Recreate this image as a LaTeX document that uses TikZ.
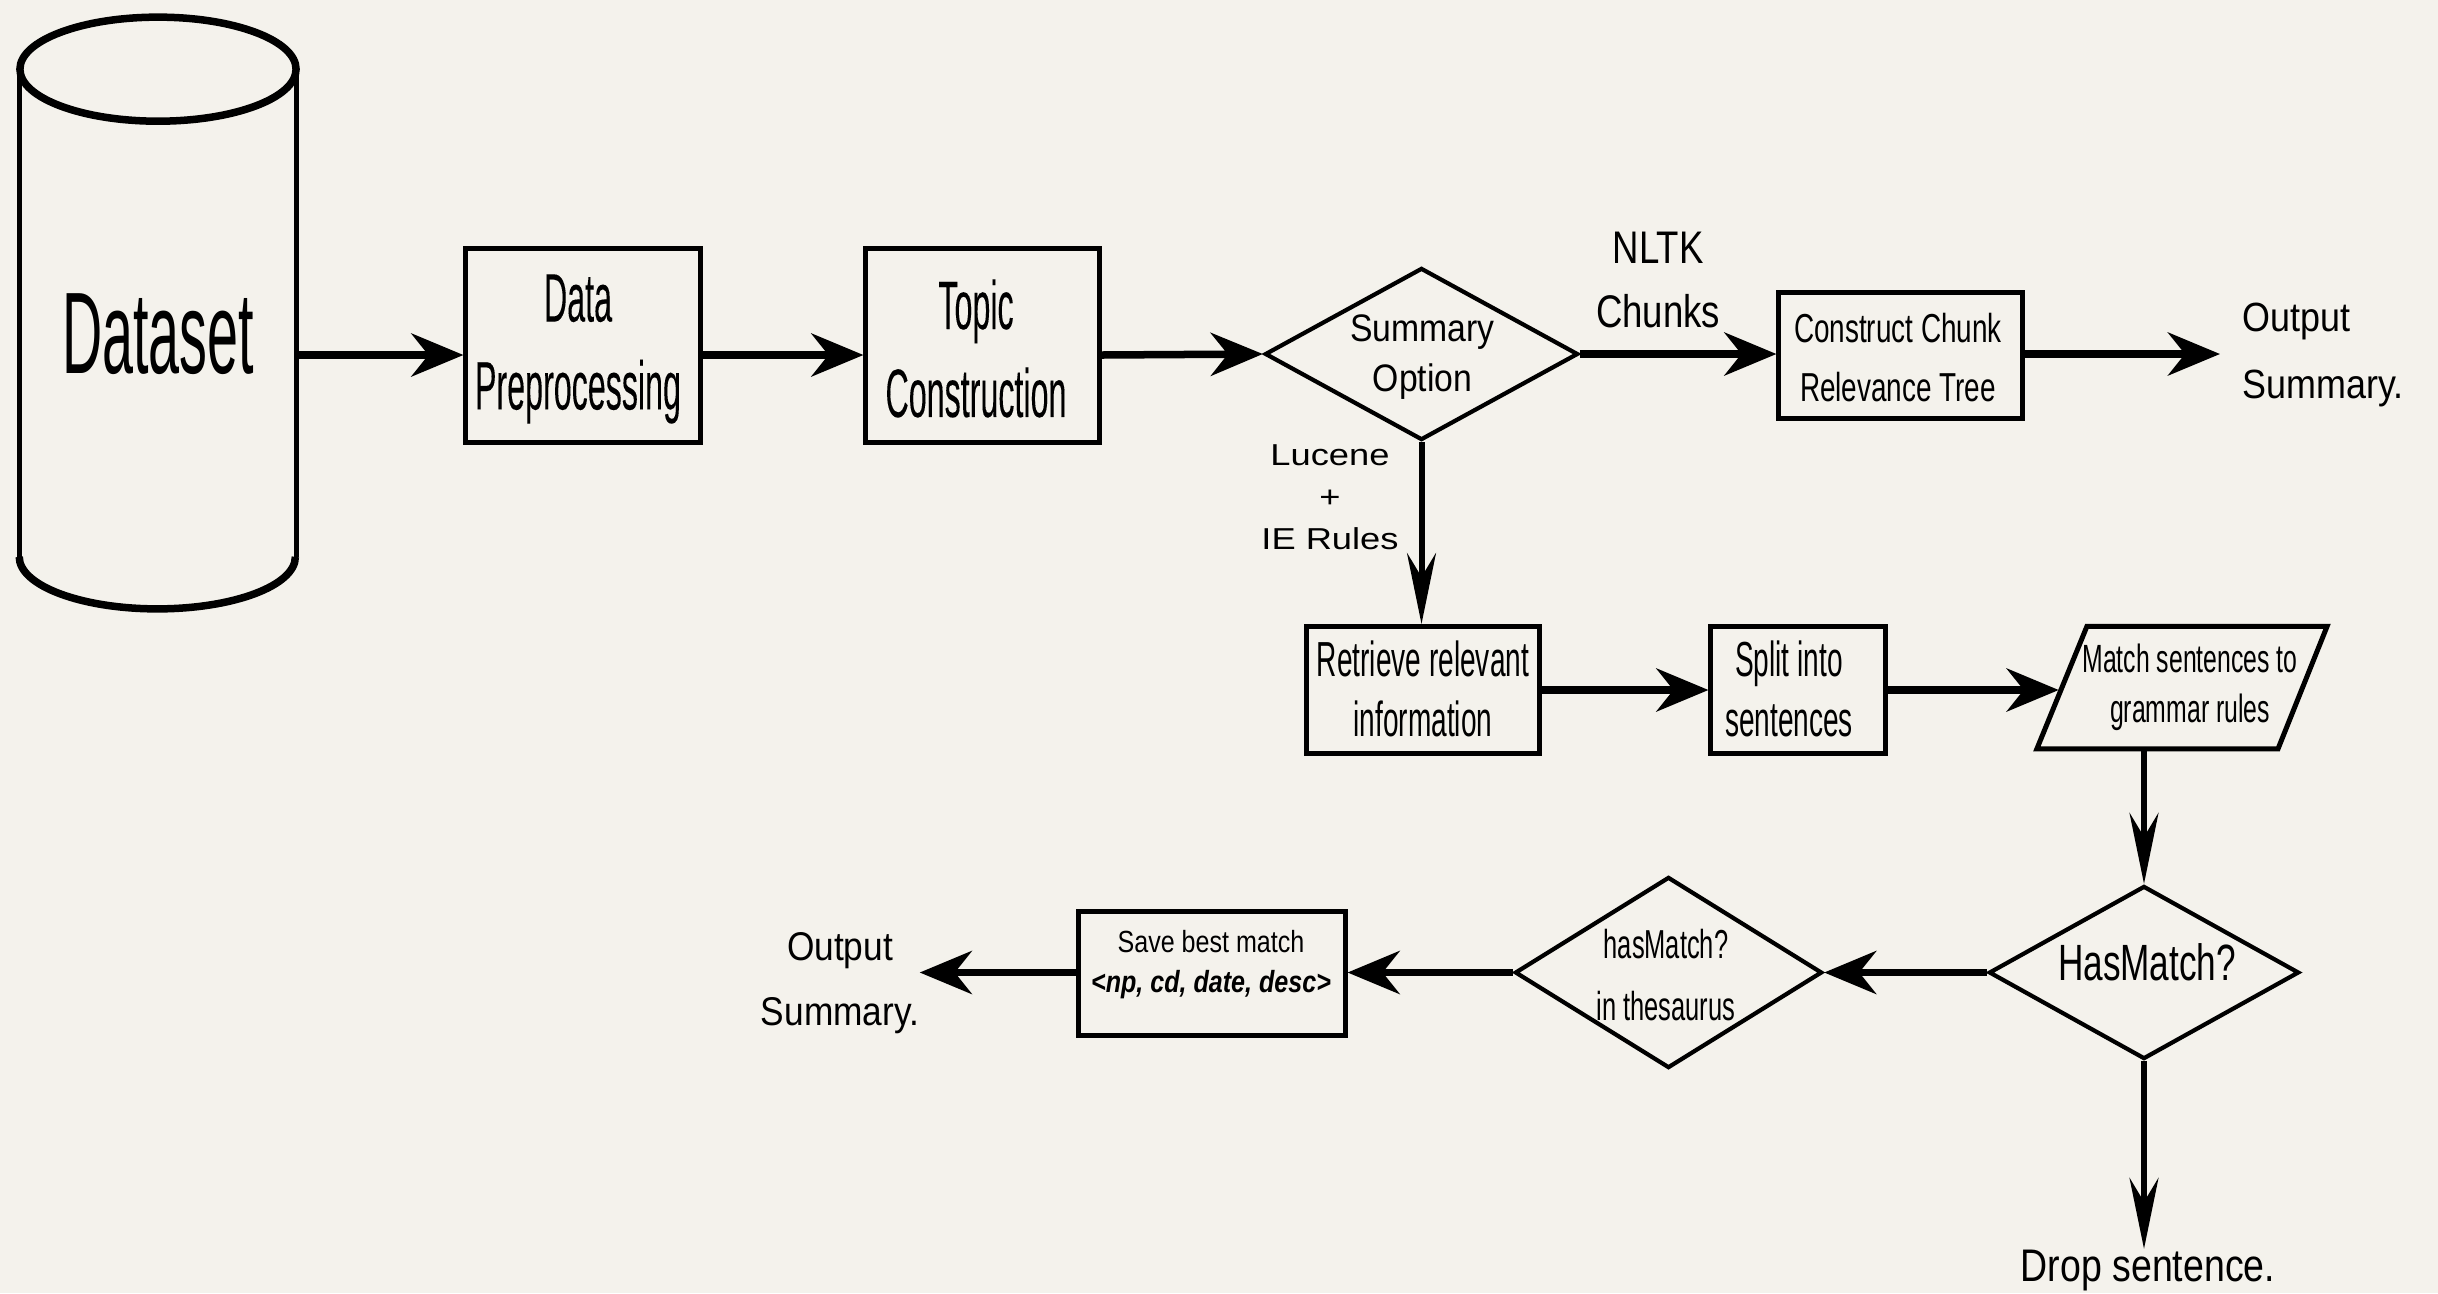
\documentclass[tikz,border=0pt]{standalone}
\usepackage{fontspec}
\setmainfont{Liberation Sans}
% narrow and wide cuts of the same sans face
\newfontfamily\fDataset[FakeStretch=0.48]{Liberation Sans}
\newfontfamily\fStepA[FakeStretch=0.47,FakeBold=0.08]{Liberation Sans}
\newfontfamily\fStepE[FakeStretch=0.57]{Liberation Sans}
\newfontfamily\fStepB[FakeStretch=0.63]{Liberation Sans}
\newfontfamily\fStepC[FakeStretch=0.69]{Liberation Sans}
\newfontfamily\fStepD[FakeStretch=0.82]{Liberation Sans}
\newfontfamily\fNarrowLabel[FakeStretch=0.8]{Liberation Sans}
\newfontfamily\fLabel[FakeStretch=0.88]{Liberation Sans}
\newfontfamily\fWide[FakeStretch=1.2]{Liberation Sans}
\usetikzlibrary{arrows.meta,shapes.geometric}
\definecolor{paper}{RGB}{244,242,236}

\begin{document}
\begin{tikzpicture}[x=0.01cm,y=-0.01cm,
  box/.style={draw, line width=0.05cm, inner sep=0pt},
  outline/.style={line width=0.05cm, line join=miter},
  choice/.style={draw, shape=diamond, line width=0.042cm, inner sep=0pt},
  txt/.style={inner sep=0pt, align=center},
  harr/.style={line width=0.075cm, -{Stealth[length=0.52cm,width=0.43cm,inset=0.17cm]}},
  varr/.style={line width=0.06cm, -{Stealth[length=0.71cm,width=0.29cm,inset=0.24cm]}},
]
\fill[paper] (0,0) rectangle (2438,1293);
\useasboundingbox (0,0) rectangle (2438,1293);

% ---- dataset cylinder ----
\node[minimum width=2.76cm, minimum height=4.86cm, inner sep=0pt] (dset) at (158,313) {};
\draw[line width=0.05cm] (dset.north west) -- (dset.south west)
                         (dset.north east) -- (dset.south east);
\draw[line width=0.075cm] (dset.north) ellipse[x radius=1.38cm, y radius=0.52cm];
\draw[line width=0.075cm] (dset.south west) arc[start angle=180, end angle=360, x radius=1.38cm, y radius=0.52cm];
\node[txt, anchor=base, font=\fDataset\fontsize{33}{33}\selectfont] (dsetT) at (158,373) {Dataset};

\coordinate (mainrow) at (0,355);

% ---- top row ----
\node[box, minimum width=2.34cm, minimum height=1.93cm] (prep) at (583,345.5) {};
\node[txt, font=\fStepA\fontsize{19.5}{25}\selectfont] (prepT) at (578,349) {Data\\Preprocessing};

\node[box, minimum width=2.33cm, minimum height=1.93cm] (topic) at (982.5,345.5) {};
\node[txt, font=\fStepA\fontsize{19.5}{25}\selectfont] (topicT) at (976,348.5) {Topic\\Construction};

\node[choice, minimum width=3.13cm, minimum height=1.72cm] (opt) at (1421.5,354) {};
\node[txt, font=\fLabel\fontsize{10.9}{14.2}\selectfont] (optT) at (1422.5,357.5) {Summary\\Option};

\node[txt, font=\fNarrowLabel\fontsize{13}{18.2}\selectfont] (nltk) at (1658,279.5) {NLTK\\Chunks};

\node[box, minimum width=2.43cm, minimum height=1.25cm] (chunk) at (1900.5,355.5) {};
\node[txt, font=\fStepC\fontsize{11.5}{17}\selectfont] (chunkT) at (1898,357.5) {Construct Chunk\\Relevance Tree};

\node[inner sep=0pt, anchor=west, align=left, font=\fLabel\fontsize{11.6}{18.8}\selectfont] (outR) at (2242,355) {Output\\Summary.};

% ---- middle row ----
\node[txt, font=\fWide\fontsize{8.6}{12}\selectfont] (lucene) at (1330,497.5) {Lucene\\+\\IE Rules};

\node[box, minimum width=2.32cm, minimum height=1.27cm] (retr) at (1423,690) {};
\node[txt, font=\fStepE\fontsize{14}{17}\selectfont] (retrT) at (1423,689) {Retrieve relevant\\information};

\node[box, minimum width=1.74cm, minimum height=1.27cm] (split) at (1798,690) {};
\node[txt, font=\fStepE\fontsize{14}{17}\selectfont] (splitT) at (1789,689) {Split into\\sentences};

\node[minimum width=2.45cm, minimum height=1.21cm, inner sep=0pt] (match) at (2182,687.5) {};
\draw[outline] ([xshift=-0.95cm]match.north) -- ([xshift=1.45cm]match.north)
  -- ([xshift=0.96cm]match.south) -- ([xshift=-1.45cm]match.south) -- cycle;
\node[txt, font=\fStepB\fontsize{11.2}{14.2}\selectfont] (matchT) at (2190,687) {Match sentences to\\grammar rules};

% ---- bottom row ----
\node[choice, minimum width=3.10cm, minimum height=1.73cm] (hasm) at (2144,972.5) {};
\node[txt, font=\fStepC\fontsize{14.5}{14.5}\selectfont] (hasmT) at (2147,962.5) {HasMatch?};

\node[choice, minimum width=3.07cm, minimum height=1.91cm] (thes) at (1668.5,972.5) {};
\node[txt, font=\fStepB\fontsize{11.5}{17.6}\selectfont] (thesT) at (1666,975) {hasMatch?\\in thesaurus};

\node[box, minimum width=2.66cm, minimum height=1.23cm] (save) at (1212,973.5) {};
\node[txt, font=\fStepD\fontsize{8.7}{11.4}\selectfont] (saveT) at (1211,965) {Save best match\\\textbf{\textit{<np, cd, date, desc>}}};

\node[txt, font=\fLabel\fontsize{11.4}{18.5}\selectfont] (outB) at (840,983) {Output\\Summary.};

\node[txt, anchor=base, font=\fStepD\fontsize{13}{13}\selectfont] (drop) at (2148,1281) {Drop sentence.};

% ---- connectors ----
\draw[harr] (dset.east |- mainrow) -- (prep.west |- mainrow);
\draw[harr] (prep.east |- mainrow) -- (topic.west |- mainrow);
\draw[harr] (topic.east |- mainrow) -- (opt.west);
\draw[harr] (opt.east) -- (opt.east -| chunk.west);
\draw[harr, shorten >=0.22cm] (chunk.east |- opt.east) -- (outR.west |- opt.east);
\draw[varr] (opt.south) -- (opt.south |- retr.north);
\draw[harr] (retr.east) -- (split.west);
\draw[harr] (split.east) -- (split.east -| match.west);
\draw[varr] (hasm.north |- match.south) -- (hasm.north);
\draw[harr] (hasm.west) -- (thes.east);
\draw[harr] (thes.west) -- (thes.west -| save.east);
\draw[harr] (save.west |- thes.west) -- (outB.east |- thes.west);
\draw[varr] (hasm.south) -- (hasm.south |- drop.north);
\end{tikzpicture}
\end{document}
